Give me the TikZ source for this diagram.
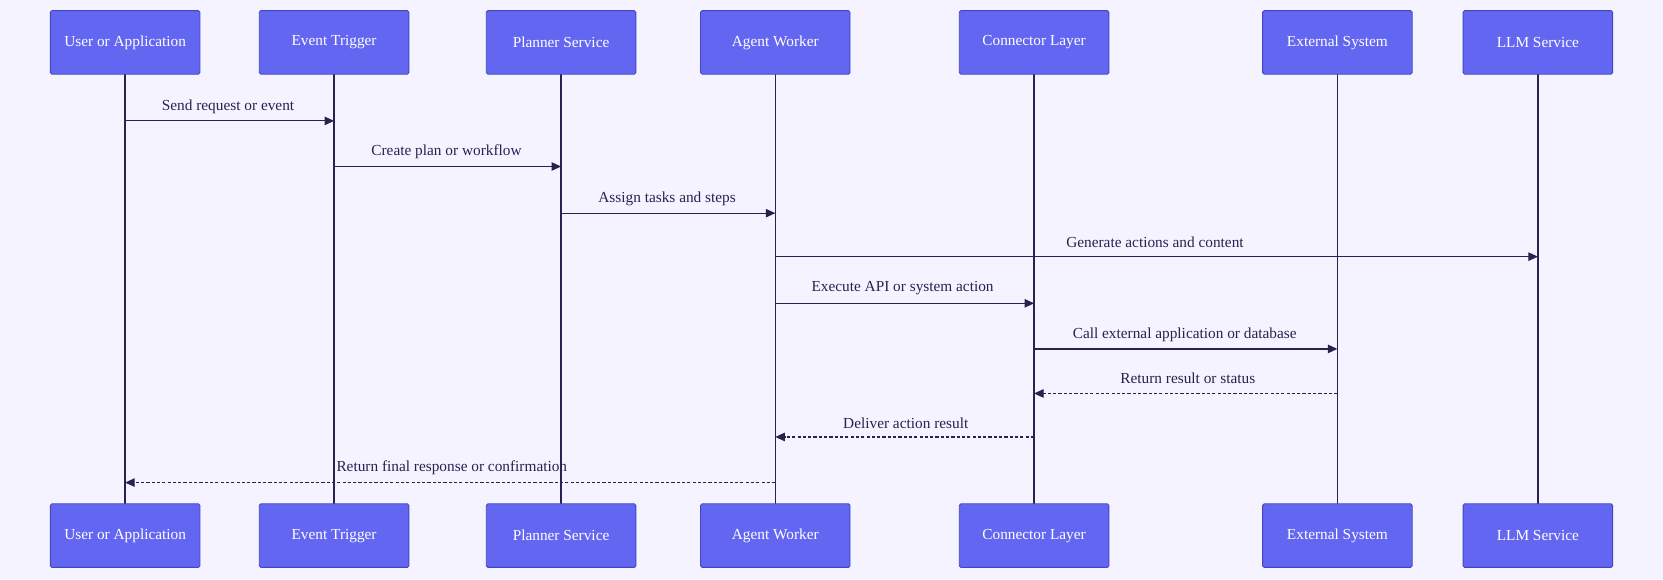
\documentclass[tikz,border=0pt]{standalone}
\usepackage{fontspec}
\setmainfont{Liberation Serif}
\usetikzlibrary{arrows.meta}
\definecolor{bg}{HTML}{F5F3FF}
\definecolor{boxf}{HTML}{6366F1}
\definecolor{boxd}{HTML}{4346C0}
\definecolor{ink}{HTML}{28224F}
\begin{document}
\begin{tikzpicture}[x=1bp,y=-1bp,
  actor/.style={draw=boxd,fill=boxf,line width=0.8bp,minimum width=141bp,minimum height=60bp,rounded corners=1.5bp,text=white,font=\fontsize{14.5}{16}\selectfont,inner sep=0},
  life/.style={draw=ink,line width=1.4bp},
  msg/.style={draw=ink,line width=1.1bp,-{Triangle[length=9bp,width=8bp]}},
  ret/.style={msg,dash pattern=on 3bp off 2bp},
  lbl/.style={text=ink,font=\fontsize{14.5}{16}\selectfont,anchor=base,inner sep=0}]
\fill[bg] (0,0) rectangle (1568,546);
\useasboundingbox (0,0) rectangle (1568,546);
\foreach \n/\x/\t in {u/118/User or Application,e/315/Event Trigger,p/529/Planner Service,a/731/Agent Worker,c/975/Connector Layer,x/1261/External System,l/1450/LLM Service}{
  \draw[life] (\x,40) -- (\x,505);
  \node[actor] (\n t) at (\x,40) {\t};
  \node[actor] (\n b) at (\x,505) {\t};
}
\foreach \n/\x in {u/118,e/315,p/529,a/731,c/975,x/1261,l/1450}{
  \foreach \k/\y in {1/114,2/157,3/201,4/242,5/286,6/329,7/371,8/412,9/455}{
    \coordinate (\n\k) at (\x,\y);
  }
}
\draw[msg] (u1) -- (e1); \node[lbl] (m1) at (215,104) {Send request or event};
\draw[msg] (e2) -- (p2); \node[lbl] (m2) at (421,147) {Create plan or workflow};
\draw[msg] (p3) -- (a3); \node[lbl] (m3) at (629,191) {Assign tasks and steps};
\draw[msg] (a4) -- (l4); \node[lbl] (m4) at (1089,233) {Generate actions and content};
\draw[msg] (a5) -- (c5); \node[lbl] (m5) at (851,275) {Execute API or system action};
\draw[msg] (c6) -- (x6); \node[lbl] (m6) at (1117,319) {Call external application or database};
\draw[ret] (x7) -- (c7); \node[lbl] (m7) at (1120,362) {Return result or status};
\draw[ret] (c8) -- (a8); \node[lbl] (m8) at (854,404) {Deliver action result};
\draw[ret] (a9) -- (u9); \node[lbl] (m9) at (426,445) {Return final response or confirmation};
\end{tikzpicture}
\end{document}
